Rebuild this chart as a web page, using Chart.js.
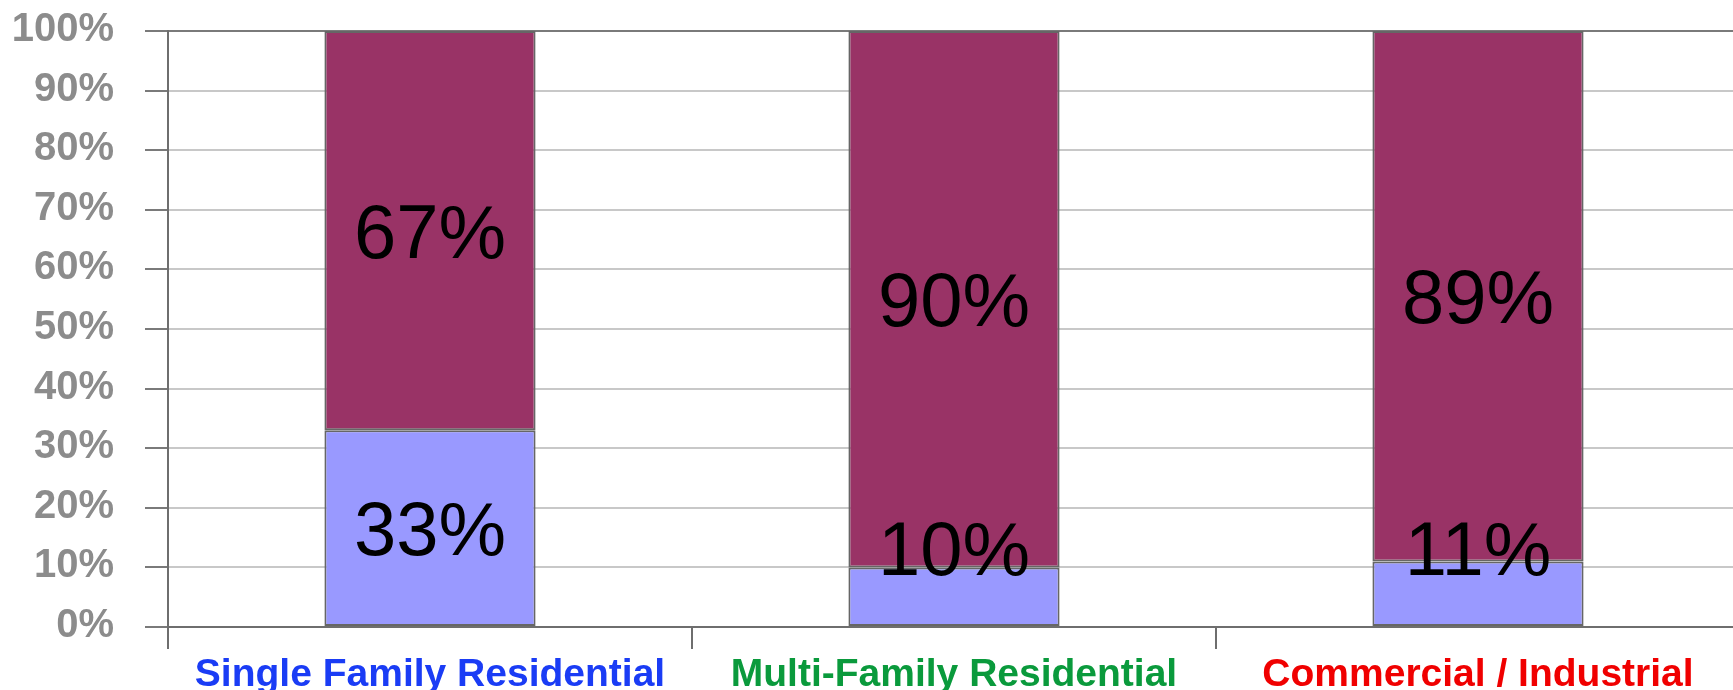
<!DOCTYPE html>
<html>
<head>
<meta charset="utf-8">
<script src="https://cdn.jsdelivr.net/npm/chart.js@4/dist/chart.umd.min.js"></script>
<style>
  html, body { margin: 0; padding: 0; background: #ffffff; overflow: hidden; }
  #wrap { width: 1740px; height: 690px; }
</style>
</head>
<body>
<div id="wrap"><canvas id="c" width="1740" height="690"></canvas></div>
<script>
// ---- data ----
const categories = ['Single Family Residential', 'Multi-Family Residential', 'Commercial / Industrial'];
const lowerShare = [33, 10, 11];
const upperShare = [67, 90, 89];
const yTickValues = [0, 10, 20, 30, 40, 50, 60, 70, 80, 90, 100];

// ---- styles ----
const FONT = '"Liberation Sans", Arial, Helvetica, sans-serif';
const labelColors = ['#1a3cf5', '#0a9a3c', '#f00000'];

const valueLabels = {
  id: 'valueLabels',
  afterDatasetsDraw(chart) {
    const ctx = chart.ctx;
    const area = chart.chartArea;
    const size = 76;
    ctx.save();
    ctx.font = 'normal ' + size + 'px ' + FONT;
    ctx.fillStyle = '#000000';
    ctx.textAlign = 'center';
    ctx.textBaseline = 'alphabetic';
    chart.data.datasets.forEach((ds, di) => {
      const meta = chart.getDatasetMeta(di);
      meta.data.forEach((el, i) => {
        const p = el.getProps(['x', 'y', 'base'], true);
        let center = (p.y + p.base) / 2;
        center = Math.min(center, area.bottom - 79);
        const baseline = center + size * 0.716 / 2;
        ctx.fillText(ds.data[i] + '%', p.x, baseline);
      });
    });
    ctx.restore();
  }
};

new Chart(document.getElementById('c'), {
  type: 'bar',
  data: {
    labels: categories,
    datasets: [
      {
        label: 'lower',
        data: lowerShare,
        backgroundColor: '#9999ff',
        borderColor: '#666666',
        borderWidth: 2,
        borderSkipped: false,
        categoryPercentage: 1,
        barPercentage: 0.403
      },
      {
        label: 'upper',
        data: upperShare,
        backgroundColor: '#993366',
        borderColor: '#666666',
        borderWidth: 2,
        borderSkipped: false,
        categoryPercentage: 1,
        barPercentage: 0.403
      }
    ]
  },
  options: {
    responsive: false,
    animation: false,
    layout: { padding: { top: 31, left: 0, right: 0, bottom: 0 } },
    plugins: {
      legend: { display: false },
      tooltip: { enabled: false }
    },
    scales: {
      x: {
        stacked: true,
        offset: true,
        afterFit: (s) => { s.height = 63; s.paddingLeft = 0; s.paddingRight = 0; },
        grid: {
          display: true,
          offset: true,
          drawOnChartArea: false,
          drawTicks: true,
          tickLength: 22,
          color: '#6e6e6e',
          lineWidth: 2
        },
        border: { display: true, color: '#6e6e6e', width: 2 },
        ticks: {
          padding: 3,
          maxRotation: 0,
          autoSkip: false,
          font: { family: FONT, size: 39, weight: 'bold' },
          color: (ctx) => labelColors[ctx.index]
        }
      },
      y: {
        stacked: true,
        min: 0,
        max: 100,
        afterFit: (s) => { s.width = 168; s.paddingTop = 0; s.paddingBottom = 0; },
        afterBuildTicks: (s) => { s.ticks = yTickValues.map(v => ({ value: v })); },
        grid: {
          drawTicks: true,
          tickLength: 23,
          lineWidth: 2,
          color: (ctx) => (ctx.tick && ctx.tick.value === 100) ? '#7a7a7a' : '#c8c8c8',
          tickColor: '#7a7a7a'
        },
        border: { display: true, color: '#6e6e6e', width: 2 },
        ticks: {
          padding: 31,
          labelOffset: -1,
          font: { family: FONT, size: 40, weight: 'bold' },
          color: '#8c8c8c',
          callback: (v) => v + '%'
        }
      }
    }
  },
  plugins: [valueLabels]
});
</script>
</body>
</html>
